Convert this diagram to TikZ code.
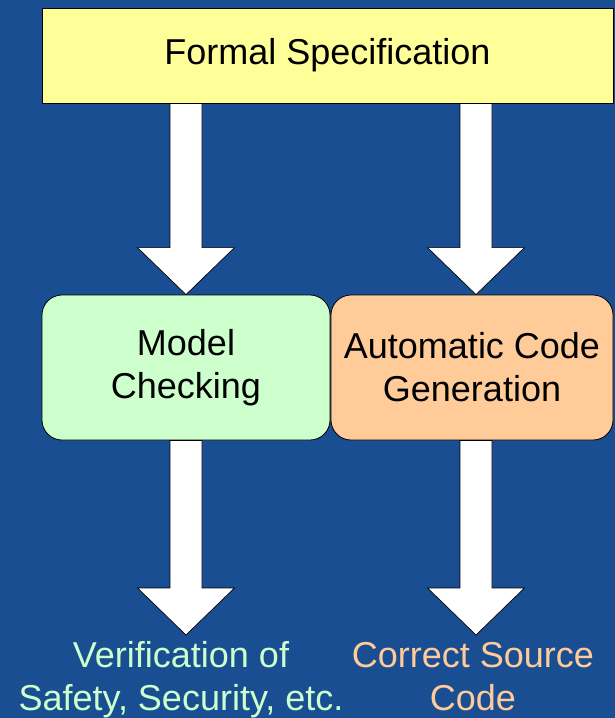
\documentclass[tikz,border=0pt]{standalone}
\usepackage{fontspec}
\setmainfont{Liberation Sans}
\usetikzlibrary{calc}
\definecolor{bgblue}{HTML}{1A4E92}
\definecolor{fsyellow}{HTML}{FFFF99}
\definecolor{mcgreen}{HTML}{CCFFCC}
\definecolor{acorange}{HTML}{FFCC99}
\newcommand\blockarr[2]{%
  \draw[blockarrow] let \p1=(#1), \p2=(#2) in
    (\x1-16pt,\y1) -- (\x1-16pt,\y2+47pt) -- (\x1-48.5pt,\y2+47pt) -- (\x1,\y2)
    -- (\x1+48.5pt,\y2+47pt) -- (\x1+16pt,\y2+47pt) -- (\x1+16pt,\y1) -- cycle;}
\begin{document}
\begin{tikzpicture}[x=1pt,y=-1pt,
  box/.style={draw=black, line width=0.8pt, inner sep=0pt, align=center,
    font=\fontsize{36}{43}\selectfont},
  result/.style={inner sep=0pt, outer sep=2pt, align=center,
    font=\fontsize{36}{43}\selectfont},
  blockarrow/.style={draw=black, line width=0.7pt, fill=white, line join=miter}]
\fill[bgblue] (0,0) rectangle (615,718);
\useasboundingbox (0,0) rectangle (615,718);
\node[box, fill=fsyellow, minimum width=571pt, minimum height=95pt] (fs) at (327.5,55.5) {Formal Specification};
\node[box, fill=mcgreen, rounded corners=20pt, minimum width=288pt, minimum height=145pt] (mc) at (186,367.5) {Model\\Checking};
\node[box, fill=acorange, rounded corners=20pt, minimum width=282pt, minimum height=145pt] (acg) at (472,367.5) {Automatic Code\\Generation};
\node[result, text=mcgreen] (ver) at (181,680) {\strut Verification of\\\strut Safety, Security, etc.};
\node[result, text=acorange] (csc) at (473,680) {\strut Correct Source\\\strut Code};
\blockarr{mc.north |- fs.south}{mc.north}
\blockarr{$(acg.north |- fs.south)+(4,0)$}{$(acg.north)+(4,0)$}
\blockarr{mc.south}{mc.south |- ver.north}
\blockarr{$(acg.south)+(4,0)$}{$(acg.south |- csc.north)+(4,0)$}
\end{tikzpicture}
\end{document}
